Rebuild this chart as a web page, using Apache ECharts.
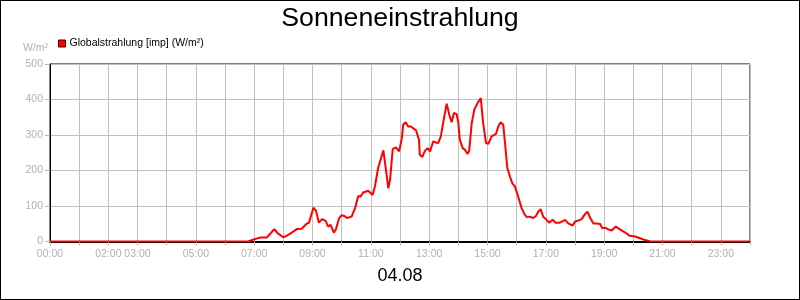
<!DOCTYPE html>
<html><head><meta charset="utf-8">
<script src="https://cdn.jsdelivr.net/npm/echarts@6/dist/echarts.min.js"></script>
<style>html,body{margin:0;padding:0;background:#fff}#c{width:800px;height:300px}</style>
</head><body><div id="c"></div>
<script>
const titleText = 'Sonneneinstrahlung';
const dateText = '04.08';
const seriesName = 'Globalstrahlung [imp] (W/m²)';
const unitText = 'W/m²';
const labelHours = [0, 2, 3, 5, 7, 9, 11, 13, 15, 17, 19, 21, 23];
const yTicks = [0, 100, 200, 300, 400, 500];
// time in decimal hours
const hours = [0, 6.79, 7.03, 7.20, 7.43, 7.54, 7.69, 7.81, 8.00, 8.11, 8.29, 8.46, 8.63, 8.80, 8.88,
  9.03, 9.12, 9.22, 9.33, 9.45, 9.54, 9.62, 9.73, 9.80, 9.91, 10.00, 10.11, 10.18, 10.34, 10.46,
  10.57, 10.65, 10.74, 10.91, 11.06, 11.14, 11.25, 11.43, 11.51, 11.60, 11.66, 11.75, 11.86, 11.97,
  12.06, 12.11, 12.19, 12.28, 12.37, 12.43, 12.55, 12.65, 12.68, 12.76, 12.86, 12.95, 13.03, 13.14,
  13.23, 13.31, 13.40, 13.52, 13.60, 13.69, 13.77, 13.85, 13.94, 14.00, 14.05, 14.15, 14.23, 14.31,
  14.37, 14.46, 14.55, 14.66, 14.77, 14.85, 14.95, 15.03, 15.14, 15.29, 15.37, 15.45, 15.54, 15.60,
  15.68, 15.77, 15.85, 15.94, 16.05, 16.17, 16.28, 16.36, 16.46, 16.57, 16.66, 16.74, 16.82, 16.91,
  17.00, 17.12, 17.23, 17.34, 17.48, 17.66, 17.77, 17.92, 18.00, 18.11, 18.23, 18.34, 18.43, 18.51,
  18.63, 18.74, 18.86, 18.94, 19.03, 19.14, 19.26, 19.40, 19.54, 19.71, 19.88, 20.06, 20.23, 20.40,
  20.57, 20.68, 24];
const values = [0, 0, 7, 11, 11, 21, 35, 23, 12, 16, 25, 35, 36, 50, 53,
  95, 87, 53, 63, 58, 42, 47, 25, 34, 65, 74, 71, 66, 70, 94,
  128, 127, 138, 143, 131, 155, 207, 257, 207, 150, 174, 260, 265, 254,
  289, 329, 336, 324, 324, 327, 313, 287, 244, 238, 256, 263, 254, 282,
  279, 277, 296, 353, 388, 357, 336, 362, 359, 334, 287, 263, 258, 247,
  254, 334, 372, 390, 404, 334, 277, 275, 296, 303, 324, 336, 329, 277,
  207, 183, 164, 155, 127, 94, 75, 68, 70, 66, 72, 84, 91, 70,
  63, 53, 61, 53, 53, 61, 51, 45, 56, 59, 63, 77, 84, 68,
  51, 51, 49, 37, 39, 34, 31, 42, 34, 26, 16, 14, 9, 4,
  1, 0, 0];

const pad = n => (n < 10 ? '0' : '') + n;
const chart = echarts.init(document.getElementById('c'), null, {renderer: 'canvas'});
const FONT = 'Liberation Sans, Arial, sans-serif';
chart.setOption({
  animation: false,
  backgroundColor: '#fff',
  textStyle: {fontFamily: FONT},
  grid: {left: 50, right: 50, top: 64, bottom: 58.5, show: true, borderColor: '#000', borderWidth: 1, containLabel: false},
  legend: {
    show: true, left: 58, top: 38, padding: 0, itemWidth: 7, itemHeight: 7, itemGap: 5,
    icon: 'rect',
    textStyle: {color: '#000', fontSize: 10.5, fontFamily: FONT, padding: [0, 0, 0, -1]},
    data: [{name: seriesName, itemStyle: {color: '#ff0000', borderColor: '#400000', borderWidth: 1}}]
  },
  graphic: [
    {type: 'rect', shape: {x: 0, y: 0, width: 800, height: 300}, style: {fill: 'none', stroke: '#000', lineWidth: 2}, silent: true, z: 100},
    {type: 'text', x: 400, y: 19, style: {text: titleText, fontSize: 26.7, fontFamily: FONT, fill: '#000', textAlign: 'center', textVerticalAlign: 'middle'}},
    {type: 'text', x: 400, y: 276, style: {text: dateText, fontSize: 18, fontFamily: FONT, fill: '#000', textAlign: 'center', textVerticalAlign: 'middle'}},
    {type: 'text', x: 48, y: 48, style: {text: unitText, fontSize: 10.5, fontFamily: FONT, fill: '#b0b0b0', textAlign: 'right', textVerticalAlign: 'middle'}}
  ],
  xAxis: {
    type: 'value', min: 0, max: 24, interval: 1,
    axisLine: {show: true, lineStyle: {color: '#000', width: 2}},
    axisTick: {show: true, length: 4, lineStyle: {color: '#b8b8b8'}},
    splitLine: {show: true, lineStyle: {color: '#c0c0c0', width: 1}},
    axisLabel: {
      margin: 7, color: '#b0b0b0', fontSize: 10.5, fontFamily: FONT,
      formatter: v => labelHours.indexOf(Math.round(v)) >= 0 ? pad(Math.round(v)) + ':00' : ''
    }
  },
  yAxis: {
    type: 'value', min: yTicks[0], max: yTicks[yTicks.length - 1], interval: 100,
    axisLine: {show: true, lineStyle: {color: '#000', width: 1}},
    axisTick: {show: true, length: 5, lineStyle: {color: '#b8b8b8'}},
    splitLine: {show: true, lineStyle: {color: '#c0c0c0', width: 1}},
    axisLabel: {margin: 7, color: '#b0b0b0', fontSize: 10.5, fontFamily: FONT}
  },
  series: [{
    name: seriesName, type: 'line', showSymbol: false, symbol: 'none',
    lineStyle: {color: '#ff0000', width: 2}, itemStyle: {color: '#ff0000'},
    data: hours.map((h, i) => [h, values[i]]), z: 5
  }]
});
</script></body></html>
